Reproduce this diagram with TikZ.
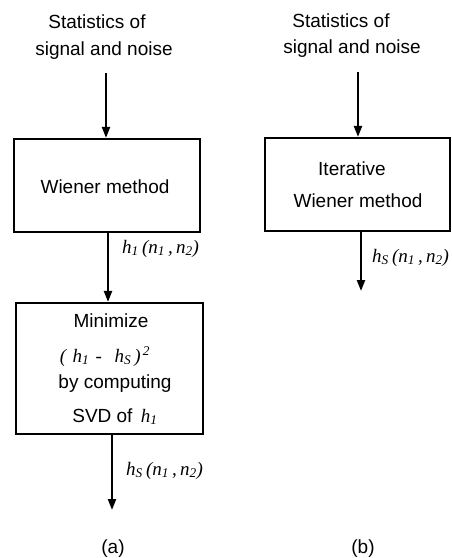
\documentclass[tikz,border=0pt]{standalone}
\usepackage{fontspec}
\setmainfont{Liberation Sans}
\newfontfamily\tms{Liberation Serif}
\usetikzlibrary{arrows.meta}
\begin{document}
\begin{tikzpicture}[x=1pt,y=-1pt,
  txt/.style={font=\fontsize{19}{22}\selectfont, inner sep=0pt, anchor=base},
  lbl/.style={font=\tms\itshape\fontsize{19}{22}\selectfont, inner sep=0pt, anchor=base west},
  blk/.style={draw, line width=2.2pt, inner sep=0pt},
  arr/.style={line width=2.2pt, -{Triangle[width=8pt,length=11pt]}}]
\useasboundingbox (0,0) rectangle (452,558);

% ---------- (a) ----------
\node[txt] (ta1) at (97,28) {Statistics of};
\node[txt] (ta2) at (104,55) {signal and noise};
\node[blk, minimum width=186pt, minimum height=93pt] (b1) at (107,185.5) {};
\node[txt] (w1) at (105,193) {Wiener method};
\node[blk, minimum width=187pt, minimum height=131pt] (b2) at (109.5,368.5) {};
\node[txt] (m1) at (111,327) {Minimize};
\node[txt] (m2) at (105,362) {\tms\itshape (\,\,h\textsubscript{1}\,\,-\,\,\,\,h\textsubscript{S}\,)\textsuperscript{\,2}};
\node[txt] (m3) at (115,388) {by computing};
\node[txt] (m4) at (115,422) {SVD of \,{\tms\itshape h\textsubscript{1}}};
\node[lbl] (la1) at (122,253) {h\textsubscript{1}\,(n\textsubscript{1}\,,\,n\textsubscript{2})};
\node[lbl] (la2) at (126,475) {h\textsubscript{S}\,(n\textsubscript{1}\,,\,n\textsubscript{2})};
\node[txt] (ca) at (113,553) {(a)};

\coordinate (xa1) at (106,73);
\coordinate (xa2) at (108,0);
\coordinate (xa3) at (112,0);
\coordinate (ea3) at (112,510);
\draw[arr] (xa1) -- (xa1 |- b1.north);
\draw[arr] (xa2 |- b1.south) -- (xa2 |- b2.north);
\draw[arr] (xa3 |- b2.south) -- (ea3);

% ---------- (b) ----------
\node[txt] (tb1) at (341,27) {Statistics of};
\node[txt] (tb2) at (352,53) {signal and noise};
\node[blk, minimum width=185pt, minimum height=93pt] (b3) at (357.5,184.5) {};
\node[txt] (i1) at (352,175) {Iterative};
\node[txt] (i2) at (358,207) {Wiener method};
\node[lbl] (lb1) at (372,262) {h\textsubscript{S}\,(n\textsubscript{1}\,,\,n\textsubscript{2})};
\node[txt] (cb) at (363,553) {(b)};

\coordinate (xb1) at (358,72);
\coordinate (xb2) at (361,0);
\coordinate (eb2) at (361,291);
\draw[arr] (xb1) -- (xb1 |- b3.north);
\draw[arr] (xb2 |- b3.south) -- (eb2);
\end{tikzpicture}
\end{document}
